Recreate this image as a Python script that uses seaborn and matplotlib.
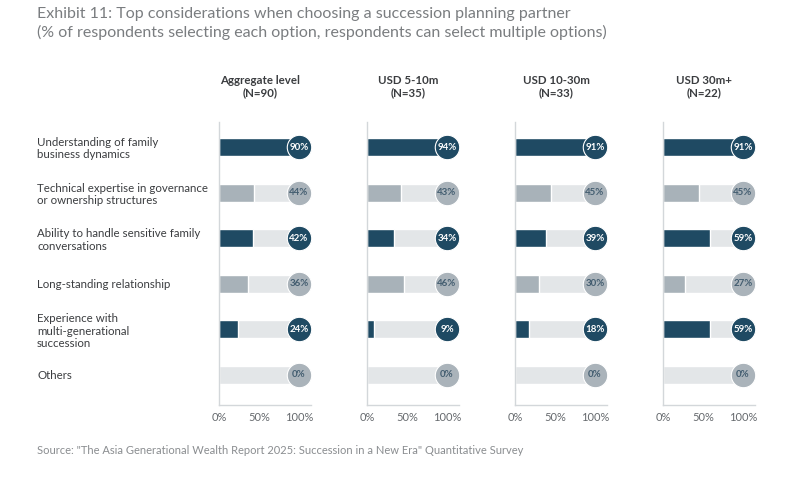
import numpy as np
import pandas as pd
import seaborn as sns
import matplotlib.pyplot as plt

# values read from the exhibit (% of respondents)
options = ['Understanding of family\nbusiness dynamics',
           'Technical expertise in governance\nor ownership structures',
           'Ability to handle sensitive family\nconversations',
           'Long-standing relationship',
           'Experience with\nmulti-generational\nsuccession',
           'Others']
groups = ['Aggregate level\n(N=90)', 'USD 5-10m\n(N=35)', 'USD 10-30m\n(N=33)', 'USD 30m+\n(N=22)']
aggregate = [90, 44, 42, 36, 24, 0]
usd_5_10 = [94, 43, 34, 46, 9, 0]
usd_10_30 = [91, 45, 39, 30, 18, 0]
usd_30_plus = [91, 45, 59, 27, 59, 0]
highlight = [True, False, True, False, True, False]
xticks = [0, 50, 100]
xticklabels = ['0%', '50%', '100%']

values = [aggregate, usd_5_10, usd_10_30, usd_30_plus]

DARK = '#1f4a63'
MID = '#a8b2b9'
LIGHT = '#e3e6e8'
CIRCLE_GREY = '#aab3ba'
GREY_TXT = '#435d70'

sns.set_theme(style='white')
plt.rcParams['font.family'] = ['Lato', 'DejaVu Sans']

fig = plt.figure(figsize=(8, 5), dpi=100)
fig.patch.set_facecolor('white')

fig.text(37 / 800, 1 - 14 / 500, 'Exhibit 11: Top considerations when choosing a succession planning partner',
         fontsize=11.5, color='#7a7d80', va='center', ha='left')
fig.text(37 / 800, 1 - 32 / 500, '(% of respondents selecting each option, respondents can select multiple options)',
         fontsize=11.5, color='#7a7d80', va='center', ha='left')
fig.text(37 / 800, 1 - 451 / 500,
         'Source: "The Asia Generational Wealth Report 2025: Succession in a New Era" Quantitative Survey',
         fontsize=8, color='#8a8d90', va='center', ha='left')

lefts = [219, 367, 515, 663]
for i, (grp, vals) in enumerate(zip(groups, values)):
    ax = fig.add_axes([lefts[i] / 800, 0.19, 92 / 800, 0.566])
    df = pd.DataFrame({'option': options, 'value': vals, 'full': [100] * len(options)})
    sns.barplot(data=df, y='option', x='full', orient='h', color=LIGHT, width=0.4,
                ax=ax, saturation=1)
    cols = [DARK if h else MID for h in highlight]
    sns.barplot(data=df, y='option', x='value', orient='h', hue='option', palette=cols,
                legend=False, width=0.4, ax=ax, saturation=1)
    for y, (v, h) in enumerate(zip(vals, highlight)):
        ax.scatter(100, y, s=310, color=DARK if h else CIRCLE_GREY, zorder=5,
                   edgecolors='white', linewidths=0.8)
        ax.text(100, y, f'{v}%', ha='center', va='center', fontsize=7, fontweight='bold',
                color='white' if h else GREY_TXT, zorder=6)
    ax.set_xlim(0, 115)
    ax.set_ylim(5.66, -0.55)
    ax.set_xlabel('')
    ax.set_ylabel('')
    ax.set_xticks(xticks)
    ax.set_xticklabels(xticklabels)
    ax.tick_params(axis='x', length=0, labelsize=8, labelcolor='#666a6e', pad=5)
    for side in ['top', 'right']:
        ax.spines[side].set_visible(False)
    for side in ['left', 'bottom']:
        ax.spines[side].set_color('#d3d7da')
        ax.spines[side].set_linewidth(1)
    if i == 0:
        ax.set_yticks(range(len(options)))
        ax.set_yticklabels(options, fontsize=8.3, color='#3b3d40', ha='left', linespacing=1.15)
        ax.tick_params(axis='y', length=0, pad=131)
    else:
        ax.set_yticks([])
    ax.text(0.45, 1.085, grp, transform=ax.transAxes, ha='center', va='bottom',
            fontsize=8.3, fontweight='bold', color='#3b3d40', linespacing=1.15)

fig.savefig('out.png', dpi=100, facecolor='white')
plt.close()
